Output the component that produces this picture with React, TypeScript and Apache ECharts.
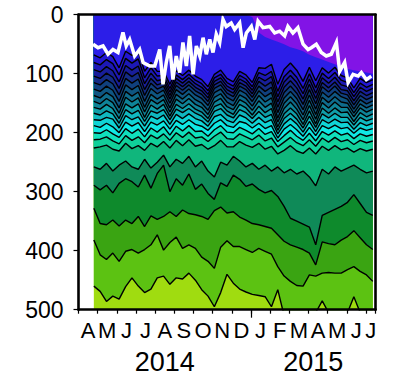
import React, { useEffect, useRef } from 'react';
import * as echarts from 'echarts';

// time axis: months since 1 April 2014
const times = [0.80, 1.13, 1.46, 1.79, 2.12, 2.46, 2.79, 3.12, 3.45, 3.78, 4.11, 4.44, 4.77, 5.10, 5.43, 5.76, 6.10, 6.43, 6.76, 7.09, 7.42, 7.75, 8.08, 8.41, 8.74, 9.07, 9.41, 9.74, 10.07, 10.40, 10.73, 11.06, 11.39, 11.72, 12.05, 12.38, 12.72, 13.05, 13.38, 13.71, 14.04, 14.37, 14.70, 15.03, 15.36];

// depth (m) of each contour line at each time
const purple = [0, 0, 0, 0, 0, 0, 0, 0, 0, 0, 0, 0, 0, 0, 0, 0, 0, 0, 0, 0, 0, 0, 0, 0, 0, 4, 30, 38, 42, 46, 50, 55, 58, 62, 68, 72, 76, 80, 84, 88, 92, 94, 96, 98, 100];
const d1 = [68, 73, 64, 71, 90, 62, 69, 63, 96, 81, 96, 96, 118, 95, 103, 94, 104, 110, 122, 101, 94, 108, 114, 96, 102, 115, 90, 91, 84, 118, 93, 82, 94, 113, 89, 112, 90, 99, 89, 103, 107, 124, 108, 115, 110];
const d2 = [81, 85, 76, 83, 102, 74, 82, 75, 107, 90, 104, 103, 125, 102, 110, 101, 111, 117, 129, 107, 101, 115, 121, 103, 109, 122, 98, 103, 96, 130, 105, 94, 106, 125, 100, 124, 99, 108, 98, 111, 115, 132, 116, 123, 118];
const d3 = [93, 97, 88, 95, 114, 86, 94, 87, 117, 99, 112, 109, 131, 108, 116, 107, 117, 123, 135, 113, 107, 121, 127, 109, 115, 128, 106, 112, 105, 139, 114, 103, 115, 134, 109, 133, 107, 116, 106, 119, 122, 139, 123, 130, 125];
const d4 = [104, 108, 99, 106, 125, 97, 105, 98, 127, 108, 119, 115, 137, 114, 122, 113, 123, 129, 141, 119, 113, 127, 133, 115, 121, 134, 113, 121, 114, 148, 123, 112, 124, 143, 118, 142, 115, 124, 114, 127, 129, 146, 130, 137, 132];
const d5 = [115, 119, 110, 117, 136, 108, 116, 109, 137, 116, 126, 121, 143, 120, 128, 119, 129, 135, 147, 125, 119, 133, 139, 121, 127, 140, 121, 130, 123, 157, 132, 121, 133, 152, 127, 151, 122, 131, 121, 133, 136, 153, 137, 144, 139];
const d6 = [126, 130, 121, 128, 147, 119, 127, 120, 147, 125, 134, 128, 150, 127, 135, 126, 136, 142, 154, 132, 126, 140, 146, 128, 134, 147, 129, 139, 132, 166, 141, 130, 142, 161, 136, 160, 131, 140, 130, 139, 143, 160, 144, 151, 146];
const d7 = [137, 141, 132, 139, 158, 130, 138, 131, 157, 135, 143, 136, 158, 135, 143, 134, 144, 150, 162, 140, 134, 148, 154, 136, 142, 155, 137, 148, 141, 175, 150, 139, 151, 170, 145, 169, 140, 149, 139, 148, 150, 167, 151, 158, 153];
const d8 = [147, 151, 142, 149, 167, 140, 148, 141, 165, 144, 151, 144, 165, 143, 151, 142, 152, 157, 169, 148, 142, 156, 161, 144, 150, 162, 146, 157, 150, 182, 159, 148, 160, 178, 154, 177, 149, 158, 148, 157, 157, 173, 158, 165, 160];
const d9 = [157, 160, 152, 159, 176, 151, 158, 151, 174, 153, 160, 152, 172, 152, 159, 151, 160, 165, 176, 156, 151, 163, 169, 152, 158, 170, 155, 166, 159, 190, 168, 158, 168, 186, 163, 185, 158, 167, 158, 166, 165, 181, 166, 173, 168];
const d10 = [167, 170, 163, 168, 184, 161, 168, 162, 181, 163, 167, 161, 178, 160, 166, 159, 167, 172, 182, 164, 159, 170, 175, 161, 166, 176, 164, 174, 169, 196, 176, 167, 177, 192, 172, 191, 168, 175, 167, 174, 174, 187, 174, 180, 176];
const d11 = [178, 179, 174, 177, 192, 171, 178, 173, 189, 172, 177, 170, 186, 169, 176, 168, 176, 180, 189, 173, 169, 179, 183, 170, 175, 184, 174, 183, 178, 202, 185, 176, 185, 199, 181, 198, 178, 184, 177, 183, 182, 194, 183, 188, 184];
const d12 = [188, 191, 184, 190, 200, 182, 189, 183, 198, 182, 187, 180, 194, 179, 186, 178, 186, 189, 196, 184, 178, 188, 191, 181, 184, 192, 184, 193, 188, 209, 194, 186, 195, 206, 191, 205, 188, 193, 187, 193, 191, 201, 192, 196, 193];
const d13 = [200, 201, 195, 202, 208, 193, 201, 194, 207, 192, 199, 190, 204, 189, 197, 188, 198, 197, 206, 195, 188, 199, 200, 191, 196, 202, 193, 203, 198, 215, 205, 196, 206, 213, 201, 214, 198, 204, 197, 204, 201, 210, 202, 206, 203];
const d14 = [212, 211, 207, 214, 219, 205, 213, 207, 217, 204, 210, 202, 213, 200, 208, 199, 209, 207, 215, 206, 199, 210, 211, 202, 207, 212, 204, 214, 209, 224, 216, 208, 217, 222, 212, 223, 209, 216, 208, 215, 212, 220, 213, 217, 214];
const d15 = [226, 224, 221, 228, 231, 218, 227, 222, 230, 218, 224, 215, 226, 213, 222, 212, 223, 220, 228, 222, 213, 224, 224, 215, 221, 225, 218, 228, 223, 236, 230, 222, 231, 235, 226, 236, 223, 230, 222, 229, 226, 233, 227, 231, 228];
const e1 = [258, 262, 252, 265, 255, 248, 258, 262, 245, 260, 250, 238, 258, 245, 252, 240, 258, 248, 265, 275, 250, 255, 240, 248, 258, 252, 262, 255, 265, 258, 268, 262, 270, 265, 275, 290, 262, 270, 258, 265, 260, 255, 262, 268, 265];
const e2 = [289, 297, 289, 302, 286, 278, 283, 292, 272, 294, 269, 255, 300, 278, 289, 270, 296, 287, 303, 313, 285, 291, 272, 279, 291, 287, 296, 302, 298, 308, 325, 345, 350, 355, 360, 390, 340, 335, 330, 325, 318, 305, 320, 335, 340];
const e3 = [328, 354, 356, 348, 358, 348, 354, 342, 359, 341, 347, 342, 334, 342, 331, 337, 339, 342, 347, 332, 326, 336, 334, 343, 348, 354, 356, 359, 362, 373, 384, 390, 394, 398, 404, 424, 385, 388, 390, 382, 376, 366, 378, 390, 398];
const e4 = [382, 407, 415, 404, 418, 401, 398, 404, 398, 390, 373, 399, 386, 377, 396, 390, 396, 411, 418, 430, 394, 383, 393, 393, 398, 403, 396, 401, 406, 427, 443, 452, 459, 460, 441, 443, 438, 437, 438, 438, 432, 427, 435, 441, 452];
const e5 = [460, 469, 486, 477, 482, 461, 446, 460, 471, 465, 446, 443, 457, 446, 448, 438, 450, 466, 477, 495, 471, 440, 455, 465, 470, 474, 476, 478, 495, 466, 510, 510, 510, 515, 510, 505, 485, 505, 515, 510, 505, 478, 505, 515, 515];
const bottomDepth = 500;

// white line (mixed layer depth)
const mldTimes = [0.76, 1.02, 1.28, 1.54, 1.80, 2.06, 2.32, 2.49, 2.67, 2.93, 3.19, 3.37, 3.72, 3.98, 4.24, 4.41, 4.58, 4.76, 4.93, 5.10, 5.28, 5.45, 5.63, 5.80, 5.98, 6.15, 6.33, 6.50, 6.67, 6.85, 7.02, 7.19, 7.37, 7.54, 7.71, 7.97, 8.15, 8.41, 8.59, 8.76, 9.02, 9.20, 9.37, 9.63, 9.98, 10.24, 10.50, 10.76, 10.93, 11.19, 11.45, 11.72, 11.98, 12.15, 12.41, 12.67, 12.93, 13.19, 13.46, 13.63, 13.89, 14.07, 14.33, 14.59, 14.76, 15.02, 15.28];
const mldDepths = [50, 56, 53, 67, 59, 64, 30, 53, 42, 70, 59, 81, 87, 87, 59, 118, 81, 53, 110, 70, 98, 47, 87, 36, 101, 53, 70, 39, 67, 42, 64, 33, 47, 8, 20, 14, 25, 14, 56, 31, 20, 42, 11, 22, 20, 31, 28, 36, 20, 31, 22, 50, 59, 56, 50, 64, 70, 67, 47, 96, 81, 115, 101, 104, 98, 110, 104];

const monthLetters = ['A', 'M', 'J', 'J', 'A', 'S', 'O', 'N', 'D', 'J', 'F', 'M', 'A', 'M', 'J', 'J'];
const yearLabels = ['2014', '2015'];

const FONT = '"Liberation Sans", Arial, Helvetica, sans-serif';
const QUARTERS = 63; // quarter-month slots from 0 to 15.5 months

function monthLabelAt(i: number): string {
  if (i === 61) return monthLetters[15];
  if (i % 4 === 2) {
    const m = (i - 2) / 4;
    if (m < 15) return monthLetters[m];
  }
  return '';
}
function yearLabelAt(i: number): string {
  if (i === 18) return yearLabels[0];
  if (i === 49) return yearLabels[1];
  return '';
}

export default function App() {
  const ref = useRef<HTMLDivElement>(null);
  useEffect(() => {
    if (!ref.current) return;
    const chart = echarts.init(ref.current, null, { renderer: 'svg' });
    const toPairs = (vals: number[]) => times.map((t, i) => [t, vals[i]]);
    const layers: [number[], string][] = [
      [e5, '#5cc212'], [e4, '#3aa412'], [e3, '#0e8a2c'], [e2, '#0f8a58'], [e1, '#10b67c'],
      [d15, '#10d09a'], [d14, '#10e0bc'], [d13, '#10e8e4'], [d12, '#10d4d6'], [d11, '#10b8c0'],
      [d10, '#109ea8'], [d9, '#0f8498'], [d8, '#0f6c8c'], [d7, '#0f5682'], [d6, '#10407e'],
      [d5, '#142c86'], [d4, '#181e9a'], [d3, '#1c18b6'], [d2, '#2216d2'], [d1, '#2c1ee8'],
    ];
    const series: any[] = [];
    series.push({
      type: 'line', data: [[times[0], bottomDepth], [times[times.length - 1], bottomDepth]],
      symbol: 'none', silent: true, lineStyle: { width: 0, opacity: 0 },
      areaStyle: { color: '#a0dc10', opacity: 1 },
    });
    layers.forEach(([vals, color]) => {
      series.push({
        type: 'line', data: toPairs(vals), symbol: 'none', silent: true,
        lineStyle: { color: '#000', width: 1.4 },
        areaStyle: { color, opacity: 1 },
      });
    });
    series.push({
      type: 'line', data: toPairs(purple), symbol: 'none', silent: true,
      lineStyle: { width: 0, opacity: 0 },
      areaStyle: { color: '#8214e6', opacity: 1 },
    });
    series.push({
      type: 'line', data: mldTimes.map((t, i) => [t, mldDepths[i]]), symbol: 'none', silent: true,
      lineStyle: { color: '#fff', width: 3.5, join: 'miter' },
    });

    const quarterSlots = Array.from({ length: QUARTERS }, (_, i) => String(i));
    const frameLine = { show: true, onZero: false, lineStyle: { color: '#000', width: 2.6 } };

    chart.setOption({
      animation: false,
      backgroundColor: '#fff',
      grid: { left: 78.5, right: 19.5, top: 14.7, bottom: 73.3, containLabel: false },
      xAxis: [
        {
          type: 'value', min: 0, max: 15.5, interval: 1, position: 'bottom', z: 10,
          axisLine: frameLine,
          axisTick: { show: true, length: 4, lineStyle: { color: '#000', width: 1.2 } },
          axisLabel: { show: false }, splitLine: { show: false },
        },
        {
          type: 'category', data: quarterSlots, boundaryGap: false, position: 'bottom', z: 10,
          axisLine: { show: false, onZero: false },
          axisTick: { show: true, interval: (i: number) => i === 36, length: 8, lineStyle: { color: '#000', width: 1.2 } },
          axisLabel: {
            show: true, interval: (i: number) => monthLabelAt(i) !== '',
            formatter: (_v: string, i: number) => monthLabelAt(i),
            fontSize: 22, color: '#000', fontFamily: FONT, margin: 10,
          },
          splitLine: { show: false },
        },
        {
          type: 'category', data: quarterSlots, boundaryGap: false, position: 'bottom', z: 10,
          axisLine: { show: false, onZero: false }, axisTick: { show: false },
          axisLabel: {
            show: true, interval: (i: number) => yearLabelAt(i) !== '',
            formatter: (_v: string, i: number) => yearLabelAt(i),
            fontSize: 27, color: '#000', fontFamily: FONT, margin: 39,
          },
          splitLine: { show: false },
        },
        {
          type: 'value', min: 0, max: 15.5, position: 'top', z: 10,
          axisLine: frameLine, axisTick: { show: false }, axisLabel: { show: false }, splitLine: { show: false },
        },
      ],
      yAxis: [
        {
          type: 'value', min: 0, max: 500, interval: 100, inverse: true, position: 'left', z: 10,
          axisLine: frameLine,
          axisTick: { show: true, length: 5, lineStyle: { color: '#000', width: 1.2 } },
          axisLabel: { fontSize: 23, color: '#000', fontFamily: FONT, margin: 15 },
          splitLine: { show: false },
        },
        {
          type: 'value', min: 0, max: 500, inverse: true, position: 'right', z: 10,
          axisLine: frameLine, axisTick: { show: false }, axisLabel: { show: false }, splitLine: { show: false },
        },
      ],
      series,
    });
    return () => chart.dispose();
  }, []);
  return (
    <div
      ref={ref}
      style={{ position: 'fixed', left: 0, top: 0, width: 395, height: 383, background: '#fff' }}
    />
  );
}
